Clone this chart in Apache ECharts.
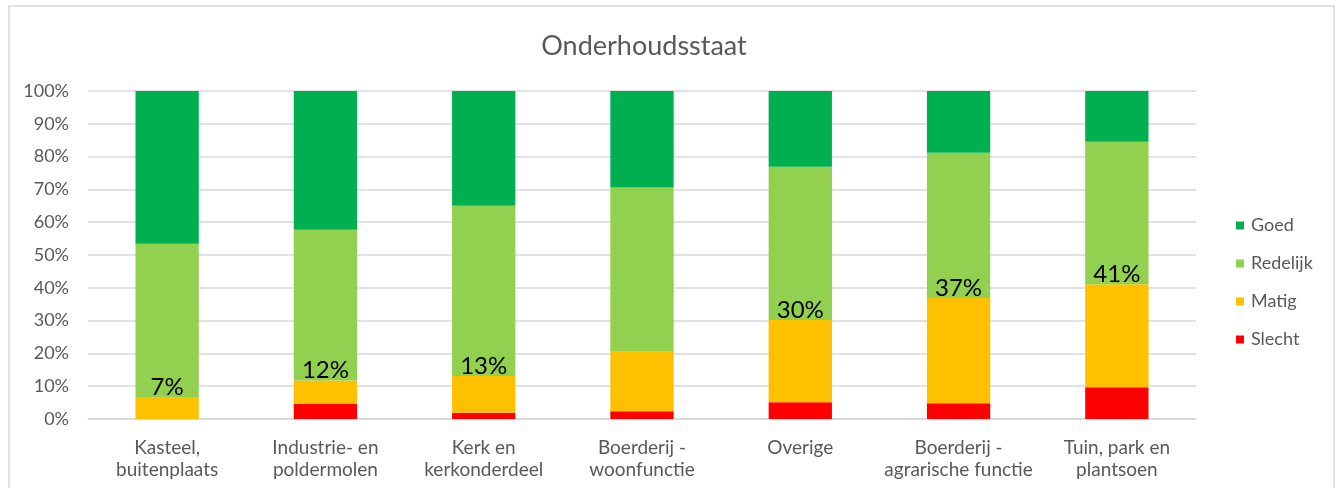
<!DOCTYPE html>
<html>
<head>
<meta charset="utf-8">
<script src="https://cdn.jsdelivr.net/npm/echarts@6/dist/echarts.min.js"></script>
<style>
  html, body { margin: 0; padding: 0; background: #ffffff; }
  #chart { width: 1337px; height: 488px; }
</style>
</head>
<body>
<div id="chart"></div>
<script>
// Categories of monuments (two-line axis labels)
const categories = [
  'Kasteel,\nbuitenplaats',
  'Industrie- en\npoldermolen',
  'Kerk en\nkerkonderdeel',
  'Boerderij -\nwoonfunctie',
  'Overige',
  'Boerderij -\nagrarische functie',
  'Tuin, park en\nplantsoen'
];

// Share per condition class, percent of each category
const slecht   = [0.0, 4.6, 1.9, 2.4, 5.1, 4.8, 9.7];
const matig    = [6.7, 7.1, 11.2, 18.1, 25.1, 32.1, 31.4];
const redelijk = [46.7, 46.0, 51.9, 50.1, 46.7, 44.3, 43.4];
const goed     = [46.6, 42.3, 35.0, 29.4, 23.1, 18.8, 15.5];

// Which bars carry the combined "slecht + matig" label
const showCombined = [true, true, true, false, true, true, true];

const legendOrder = ['Goed', 'Redelijk', 'Matig', 'Slecht'];

const FONT = 'Lato';
const GREY = '#595959';
const GRID = '#D9D9D9';

const chart = echarts.init(document.getElementById('chart'), null, { renderer: 'canvas' });

const matigData = matig.map((v, i) => ({
  value: v,
  label: {
    show: showCombined[i],
    formatter: () => Math.round(slecht[i] + matig[i]) + '%'
  }
}));

chart.setOption({
  backgroundColor: '#ffffff',
  animation: false,
  title: {
    text: 'Onderhoudsstaat',
    left: 639,
    top: 28,
    textAlign: 'center',
    textStyle: { fontFamily: FONT, fontSize: 27, fontWeight: 'normal', color: GREY }
  },
  graphic: [{
    type: 'rect',
    silent: true,
    shape: { x: 9, y: 6, width: 1325, height: 500 },
    style: { fill: 'none', stroke: GRID, lineWidth: 1.5 }
  }],
  legend: {
    orient: 'vertical',
    left: 1231,
    top: 210,
    data: legendOrder,
    icon: 'rect',
    itemWidth: 8,
    itemHeight: 8,
    itemGap: 17,
    textStyle: { fontFamily: FONT, fontSize: 18, color: GREY, lineHeight: 21, padding: [0, 0, 0, 2] }
  },
  grid: { left: 88, right: 141, top: 91, bottom: 69, containLabel: false },
  xAxis: {
    type: 'category',
    data: categories,
    axisLine: { show: true, lineStyle: { color: GRID, width: 1.5 } },
    axisTick: { show: false },
    axisLabel: {
      interval: 0,
      margin: 18,
      fontFamily: FONT,
      fontSize: 19,
      lineHeight: 22,
      color: GREY
    }
  },
  yAxis: {
    type: 'value',
    min: 0,
    max: 100,
    interval: 10,
    axisLine: { show: false },
    axisTick: { show: false },
    splitLine: { lineStyle: { color: GRID, width: 1.5 } },
    axisLabel: {
      formatter: '{value}%',
      margin: 19,
      fontFamily: FONT,
      fontSize: 18,
      color: GREY
    }
  },
  series: [
    {
      name: 'Slecht', type: 'bar', stack: 'total', barWidth: '40%',
      itemStyle: { color: '#FF0000' }, data: slecht
    },
    {
      name: 'Matig', type: 'bar', stack: 'total', barWidth: '40%',
      itemStyle: { color: '#FFC000' },
      label: {
        position: 'top',
        distance: -2,
        fontFamily: FONT,
        fontSize: 24,
        color: '#000000'
      },
      data: matigData
    },
    {
      name: 'Redelijk', type: 'bar', stack: 'total', barWidth: '40%',
      itemStyle: { color: '#92D050' }, data: redelijk
    },
    {
      name: 'Goed', type: 'bar', stack: 'total', barWidth: '40%',
      itemStyle: { color: '#00B050' }, data: goed
    }
  ]
});
</script>
</body>
</html>
